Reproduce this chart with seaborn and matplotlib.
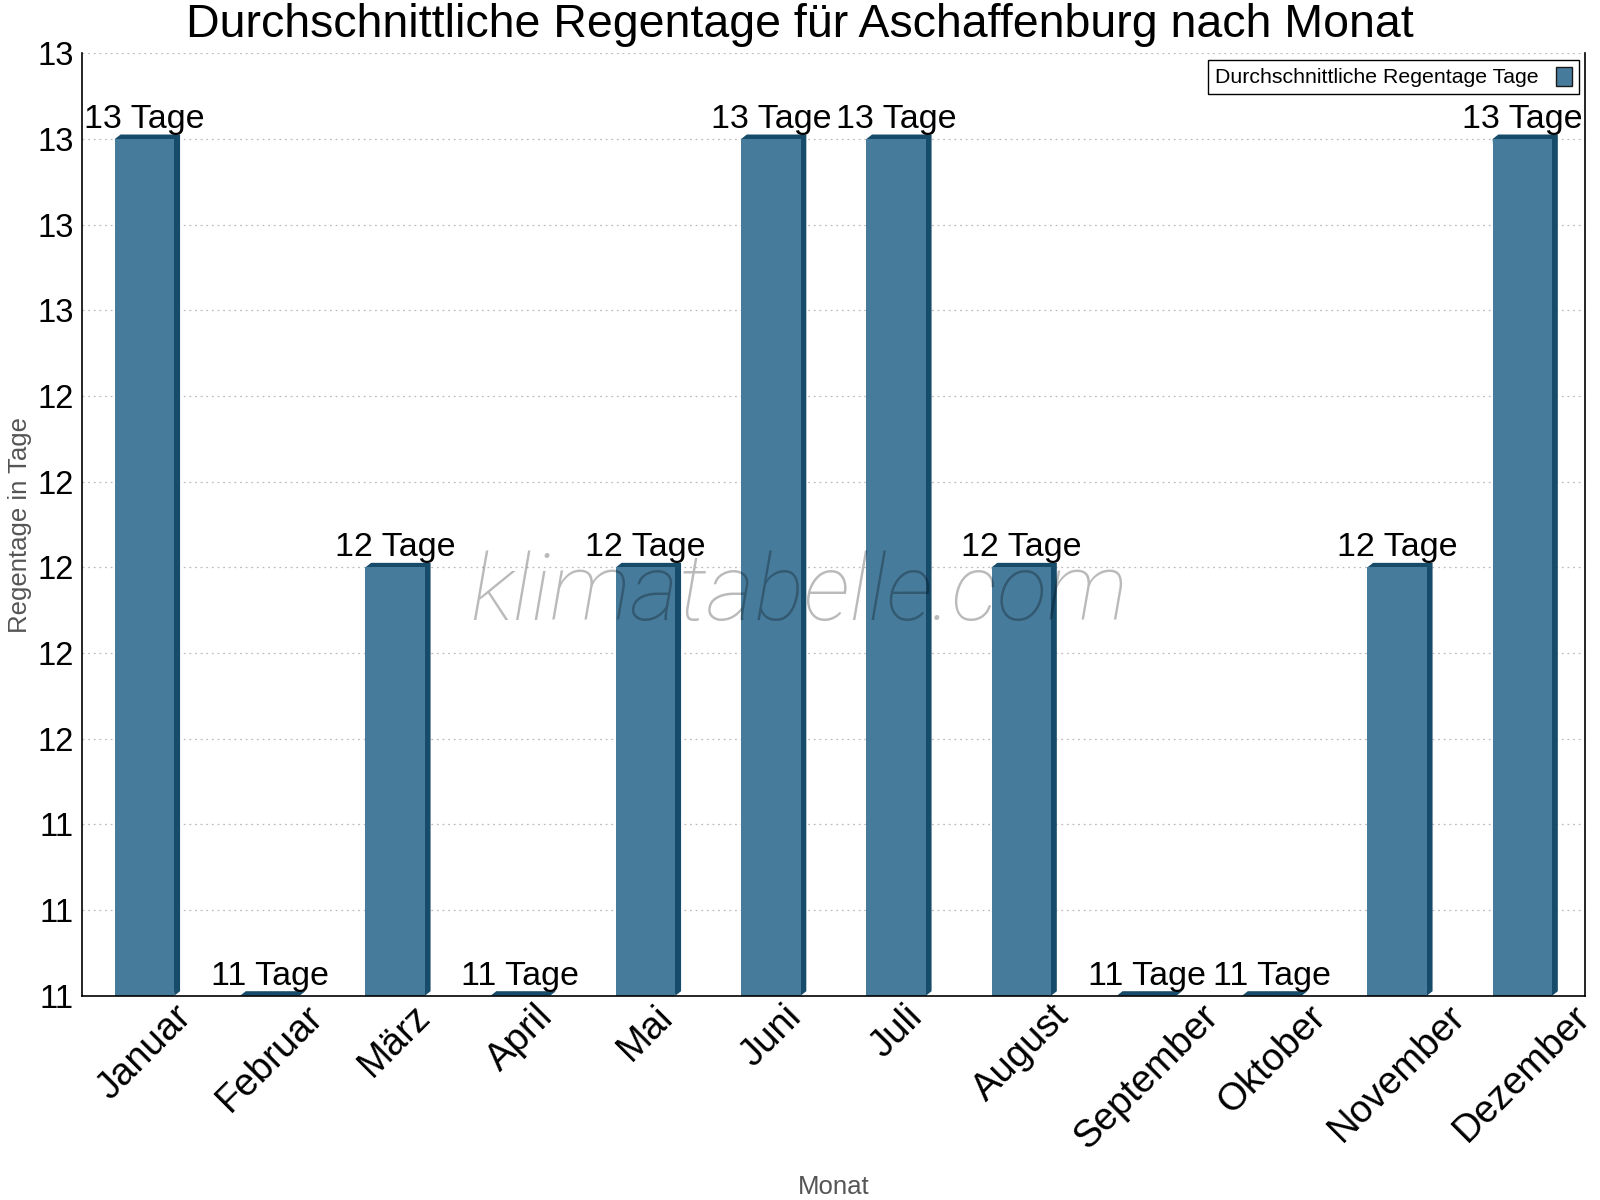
#Importing Modules

import numpy as np
import pandas as pd
import matplotlib
matplotlib.use("Agg")
import matplotlib.pyplot as plt
from matplotlib.patches import Polygon, Patch
from matplotlib.transforms import IdentityTransform
from matplotlib.ticker import FuncFormatter, FixedLocator
import seaborn as sns

###

#Data

months = ["Januar", "Februar", "März", "April", "Mai", "Juni", "Juli",
          "August", "September", "Oktober", "November", "Dezember"]
rain_days = [13, 11, 12, 11, 12, 13, 13, 12, 11, 11, 12, 13]
series_name = "Durchschnittliche Regentage Tage"
bar_texts = [f"{v} Tage" for v in rain_days]

df = pd.DataFrame({"Monat": months, "Regentage": rain_days})

###

#Style

sns.set_style("white")
plt.rcParams['font.family'] = ['Liberation Sans', 'DejaVu Sans']
plt.rcParams['text.color'] = 'black'
plt.rcParams['xtick.color'] = 'black'
plt.rcParams['ytick.color'] = 'black'
plt.rcParams['axes.labelcolor'] = '#555555'

front_col = "#467b9c"
dark_col = "#174b6a"

fig = plt.figure(figsize=(16, 12), dpi=100)
ax = fig.add_axes([0.05125, 0.17025, 0.939375, 0.7853])

sns.barplot(data=df, x="Monat", y="Regentage", color=front_col, width=0.475,
            saturation=1, ax=ax, zorder=2, edgecolor="none", linewidth=0)

ax.set_ylim(11, 13.2)
ax.set_xlim(-0.5, len(months) - 0.5)

#Y axis ticks (rounded labels like the original)
ax.set_yticks(np.arange(11, 13.21, 0.2))
ax.yaxis.set_major_formatter(FuncFormatter(lambda v, p: f"{v:.0f}"))
ax.tick_params(axis="y", which="major", direction="inout", length=8, width=1,
               color="black", labelsize=23.5, pad=2, labelcolor="black")

#X axis ticks at category boundaries
ax.xaxis.set_minor_locator(FixedLocator(np.arange(-0.5, len(months), 1.0)))
ax.tick_params(axis="x", which="major", length=0, labelsize=27.5, pad=2, labelcolor="black")
ax.tick_params(axis="x", which="minor", direction="inout", length=8, width=1, color="black")
plt.setp(ax.get_xticklabels(), rotation=45, ha="center")

for s in ["left", "bottom", "right"]:
    ax.spines[s].set_color("black")
    ax.spines[s].set_linewidth(1.2)
ax.spines["top"].set_visible(False)

ax.set_axisbelow(True)
ax.yaxis.grid(True, linestyle=(0, (1.5, 3)), color="#bdbdbd", linewidth=0.9)

#title is centred on the figure, not on the axes
ax.set_title("Durchschnittliche Regentage für Aschaffenburg nach Monat", fontsize=33.5,
             pad=11.5, color="black", x=0.4777)
ax.set_ylabel("Regentage in Tage", fontsize=18.5, color="#555555")
ax.set_xlabel("Monat", fontsize=18.5, color="#555555")
ax.yaxis.set_label_coords(-0.033, 0.5)
ax.xaxis.set_label_coords(0.5, -0.19)

#Bar labels
ax.bar_label(ax.containers[0], labels=bar_texts, padding=3, fontsize=24.5, color="black")

#Legend
handle = Patch(facecolor=front_col, edgecolor="#1a1a1a", linewidth=1)
leg = ax.legend([handle], [series_name], loc="upper right", fontsize=15.3,
                markerfirst=False, handlelength=0.75, handleheight=1.0,
                handletextpad=0.8, borderpad=0.32, borderaxespad=0.3,
                fancybox=False, framealpha=1, edgecolor="black")
leg.get_frame().set_linewidth(1)
for t in leg.get_texts():
    t.set_color("black")

#Watermark
ax.text(0.477, 0.425, "klimatabelle.com", transform=ax.transAxes, fontsize=67,
        family=["Roboto", "DejaVu Sans"], fontweight="light", style="italic",
        color="black", alpha=0.27, ha="center", va="center", zorder=5)

#3D look: dark side and top faces
fig.canvas.draw()
dx, dy = 5.7, 4.5
base = ax.get_ylim()[0]
for bar in ax.containers[0]:
    x0 = bar.get_x()
    x1 = x0 + bar.get_width()
    top = bar.get_y() + bar.get_height()
    (px0, py1), (px1, py0) = ax.transData.transform([(x0, top), (x1, base)])
    verts = [(px0, py1), (px0 + dx, py1 + dy), (px1 + dx, py1 + dy),
             (px1 + dx, py0 + dy), (px1, py0)]
    poly = Polygon(verts, closed=True, facecolor=dark_col, edgecolor="none",
                   transform=IdentityTransform(), zorder=1.5)
    ax.add_patch(poly)

fig.savefig("out.png", dpi=100)
